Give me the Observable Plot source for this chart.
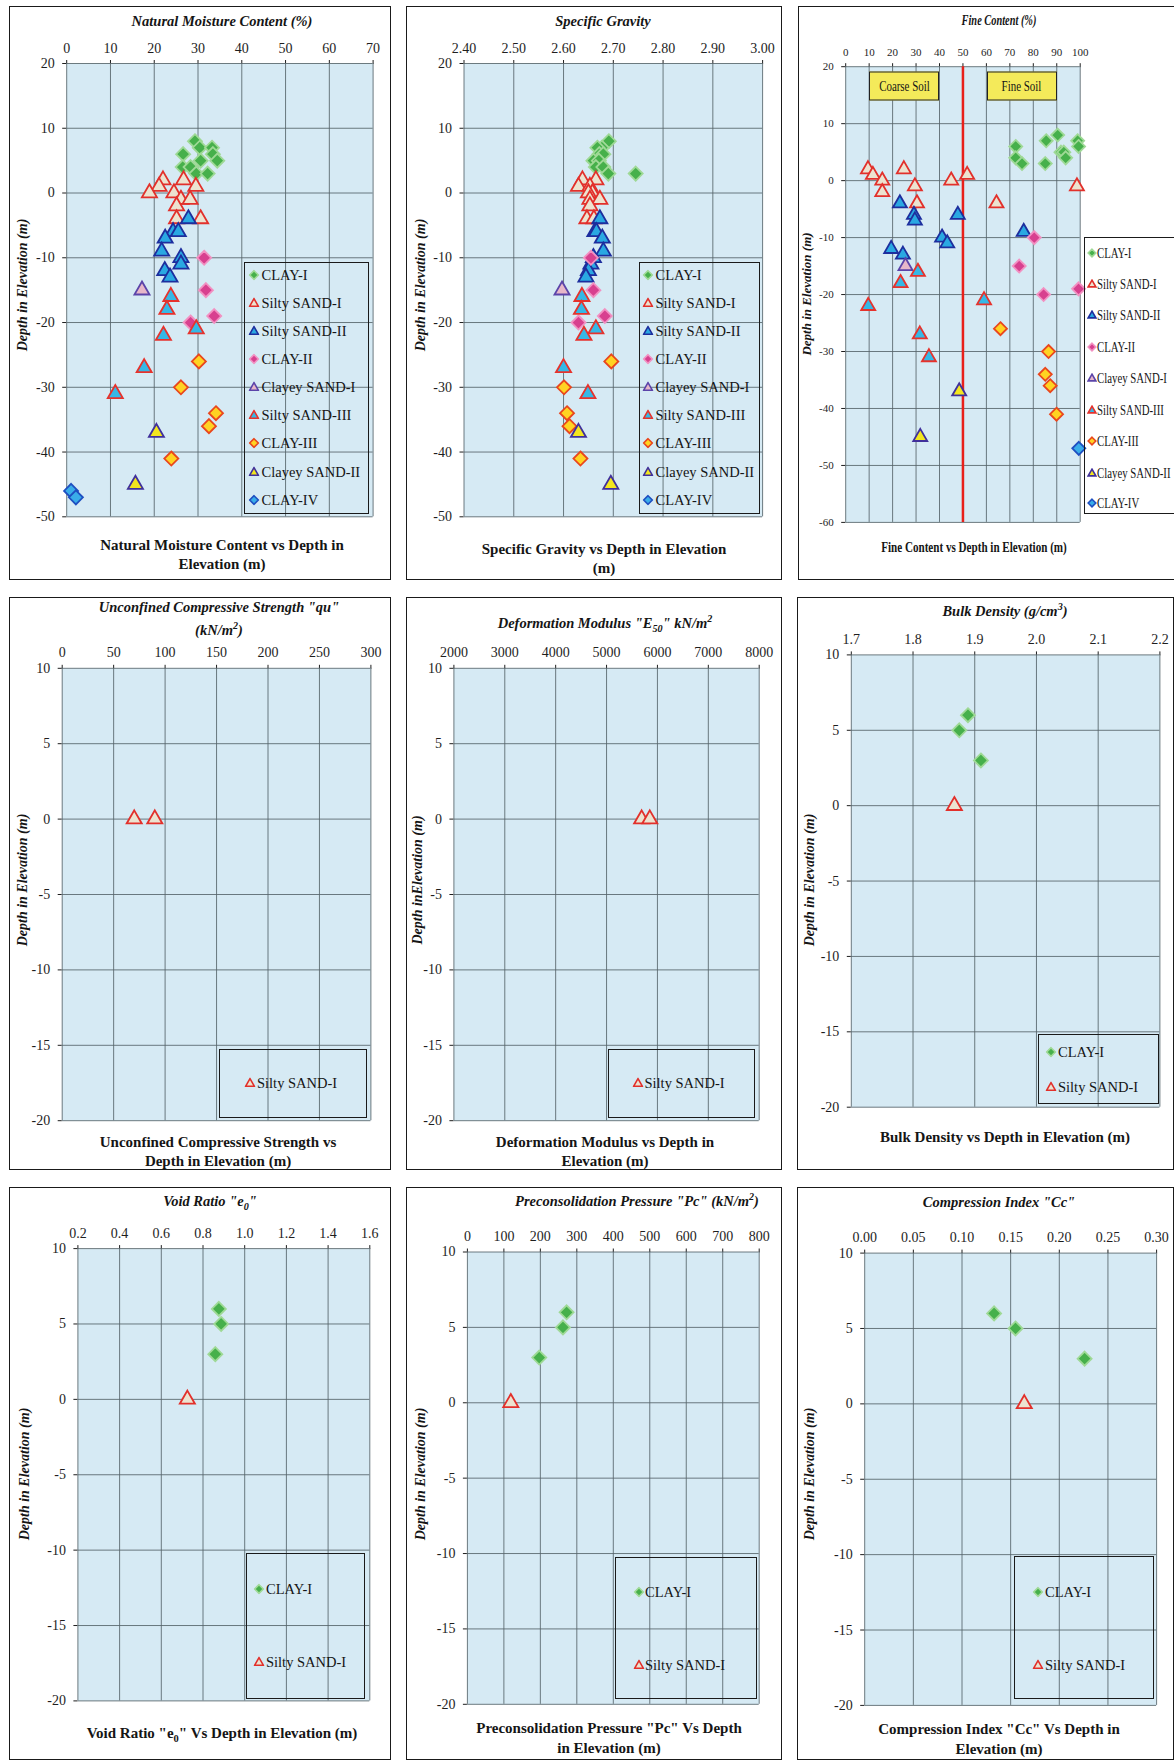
<!DOCTYPE html>
<html><head><meta charset="utf-8">
<script src="https://cdn.jsdelivr.net/npm/d3@7"></script>
<script src="https://cdn.jsdelivr.net/npm/@observablehq/plot@0.6"></script>
<style>
body{margin:0;background:#fff;}
#root{position:relative;width:1174px;height:1760px;overflow:hidden;font-family:"Liberation Serif","Times New Roman",serif;color:#151515;background:#fff;}
.pb{position:absolute;border:1.5px solid #1a1a1a;box-sizing:border-box;pointer-events:none;}
.t{position:absolute;white-space:nowrap;transform:translate(-50%,-50%);line-height:1;}
.title{font-weight:bold;font-style:italic;font-size:14.5px;}
.cap{font-weight:bold;font-size:15px;}
.ylab{font-weight:bold;font-style:italic;font-size:14px;transform:translate(-50%,-50%) rotate(-90deg);}
.cond{transform:translate(-50%,-50%) scaleX(0.74);}
.legend{position:absolute;border:1.5px solid #1a1a1a;box-sizing:border-box;}
.li{position:absolute;white-space:nowrap;font-size:14.5px;line-height:1;transform:translateY(-50%);}
.li.c{transform:translateY(-50%) scaleX(0.72);transform-origin:left center;}
.mk{position:absolute;transform:translate(-50%,-50%);}
.zone{position:absolute;background:#f4ea5a;border:1.5px solid #222;box-sizing:border-box;display:flex;align-items:center;justify-content:center;font-size:14px;transform:translate(-50%,-50%);}
.zone span{display:inline-block;transform:scaleX(0.78);white-space:nowrap;}
sub,sup{font-size:0.7em;line-height:0;}
</style></head><body><div id="root"></div>
<script>
// ---------- series ----------
const seriesNames = ["CLAY-I","Silty SAND-I","Silty SAND-II","CLAY-II","Clayey SAND-I","Silty SAND-III","CLAY-III","Clayey SAND-II","CLAY-IV"];
const seriesShapes = ["diamond","triangle","triangle","diamond","triangle","triangle","diamond","triangle","diamond"];
const seriesFills = ["#46b04b","#ece3d0","#2aa8e2","#d8408f","#e7b7c9","#35b8e6","#ffd322","#f3e61e","#39ade9"];
const seriesStrokes = ["#9fd996","#e2302b","#1d2e9e","#f291c2","#5b44a9","#e6322c","#e9461d","#40309b","#1e4fc1"];

// ---------- data: [series, value, elevation] ----------
const moistureData = [
 ["CLAY-I",29.3,8],["CLAY-I",30.4,7],["CLAY-I",33.2,7],["CLAY-I",26.6,6],["CLAY-I",33.4,6],["CLAY-I",30.6,5],["CLAY-I",34.4,5],["CLAY-I",26.5,4],["CLAY-I",28.3,4],["CLAY-I",29.6,3],["CLAY-I",32.2,3],
 ["Silty SAND-I",22.0,2],["Silty SAND-I",26.7,2],["Silty SAND-I",21.1,1],["Silty SAND-I",29.5,1],["Silty SAND-I",18.9,0],["Silty SAND-I",24.5,0],["Silty SAND-I",26.1,-1],["Silty SAND-I",28.2,-1],["Silty SAND-I",25.1,-2],["Silty SAND-I",25.1,-4],["Silty SAND-I",30.6,-4],
 ["Silty SAND-II",27.8,-4],["Silty SAND-II",24.3,-6],["Silty SAND-II",25.5,-6],["Silty SAND-II",22.5,-7],["Silty SAND-II",21.7,-9],["Silty SAND-II",26.1,-10],["Silty SAND-II",26.1,-11],["Silty SAND-II",22.4,-12],["Silty SAND-II",23.6,-13],
 ["CLAY-II",31.4,-10],["CLAY-II",31.8,-15],["CLAY-II",33.7,-19],["CLAY-II",28.3,-20],
 ["Clayey SAND-I",17.2,-15],
 ["Silty SAND-III",23.8,-16],["Silty SAND-III",22.9,-18],["Silty SAND-III",29.6,-21],["Silty SAND-III",22.1,-22],["Silty SAND-III",17.7,-27],["Silty SAND-III",11.1,-31],
 ["CLAY-III",30.2,-26],["CLAY-III",26.1,-30],["CLAY-III",34.1,-34],["CLAY-III",32.5,-36],["CLAY-III",23.9,-41],
 ["Clayey SAND-II",20.5,-37],["Clayey SAND-II",15.7,-45],
 ["CLAY-IV",1.0,-46],["CLAY-IV",2.1,-47]
];
const gravityData = [
 ["CLAY-I",2.691,8],["CLAY-I",2.677,7],["CLAY-I",2.668,7],["CLAY-I",2.672,6],["CLAY-I",2.680,6],["CLAY-I",2.660,5],["CLAY-I",2.671,5],["CLAY-I",2.665,4],["CLAY-I",2.680,4],["CLAY-I",2.690,3],["CLAY-I",2.745,3],
 ["Silty SAND-I",2.638,2],["Silty SAND-I",2.665,2],["Silty SAND-I",2.630,1],["Silty SAND-I",2.653,1],["Silty SAND-I",2.658,0],["Silty SAND-I",2.650,0],["Silty SAND-I",2.653,-1],["Silty SAND-I",2.673,-1],["Silty SAND-I",2.653,-2],["Silty SAND-I",2.647,-4],["Silty SAND-I",2.661,-4],
 ["Silty SAND-II",2.673,-4],["Silty SAND-II",2.663,-6],["Silty SAND-II",2.666,-6],["Silty SAND-II",2.678,-7],["Silty SAND-II",2.680,-9],["Silty SAND-II",2.660,-10],["Silty SAND-II",2.655,-11],["Silty SAND-II",2.650,-12],["Silty SAND-II",2.645,-13],
 ["CLAY-II",2.655,-10],["CLAY-II",2.660,-15],["CLAY-II",2.683,-19],["CLAY-II",2.630,-20],
 ["Clayey SAND-I",2.597,-15],
 ["Silty SAND-III",2.637,-16],["Silty SAND-III",2.636,-18],["Silty SAND-III",2.665,-21],["Silty SAND-III",2.641,-22],["Silty SAND-III",2.600,-27],["Silty SAND-III",2.649,-31],
 ["CLAY-III",2.696,-26],["CLAY-III",2.601,-30],["CLAY-III",2.607,-34],["CLAY-III",2.612,-36],["CLAY-III",2.634,-41],
 ["Clayey SAND-II",2.630,-37],["Clayey SAND-II",2.695,-45]
];
const fineData = [
 ["CLAY-I",90.4,8],["CLAY-I",85.5,7],["CLAY-I",98.9,7],["CLAY-I",72.5,6],["CLAY-I",99.3,6],["CLAY-I",91.8,5],["CLAY-I",93.0,5],["CLAY-I",72.5,4],["CLAY-I",93.8,4],["CLAY-I",75.2,3],["CLAY-I",85.1,3],
 ["Silty SAND-I",9.5,2],["Silty SAND-I",24.8,2],["Silty SAND-I",11.6,1],["Silty SAND-I",51.8,1],["Silty SAND-I",15.6,0],["Silty SAND-I",45.0,0],["Silty SAND-I",29.5,-1],["Silty SAND-I",98.6,-1],["Silty SAND-I",15.6,-2],["Silty SAND-I",30.4,-4],["Silty SAND-I",64.3,-4],
 ["Silty SAND-II",23.1,-4],["Silty SAND-II",29.1,-6],["Silty SAND-II",47.8,-6],["Silty SAND-II",29.5,-7],["Silty SAND-II",75.9,-9],["Silty SAND-II",41.1,-10],["Silty SAND-II",43.3,-11],["Silty SAND-II",19.4,-12],["Silty SAND-II",24.4,-13],
 ["CLAY-II",80.4,-10],["CLAY-II",74.0,-15],["CLAY-II",99.3,-19],["CLAY-II",84.4,-20],
 ["Clayey SAND-I",25.5,-15],
 ["Silty SAND-III",30.8,-16],["Silty SAND-III",23.4,-18],["Silty SAND-III",59.0,-21],["Silty SAND-III",9.6,-22],["Silty SAND-III",31.6,-27],["Silty SAND-III",35.5,-31],
 ["CLAY-III",66.0,-26],["CLAY-III",86.5,-30],["CLAY-III",85.1,-34],["CLAY-III",87.2,-36],["CLAY-III",89.9,-41],
 ["Clayey SAND-II",48.4,-37],["Clayey SAND-II",31.8,-45],
 ["CLAY-IV",99.4,-47]
];
const quData = [["Silty SAND-I",70,0],["Silty SAND-I",90,0]];
const e50Data = [["Silty SAND-I",5690,0],["Silty SAND-I",5850,0]];
const bulkData = [["CLAY-I",1.889,6],["CLAY-I",1.875,5],["CLAY-I",1.910,3],["Silty SAND-I",1.867,0]];
const voidData = [["CLAY-I",0.876,6],["CLAY-I",0.887,5],["CLAY-I",0.859,3],["Silty SAND-I",0.725,0]];
const pcData = [["CLAY-I",272,6],["CLAY-I",262,5],["CLAY-I",197,3],["Silty SAND-I",119,0]];
const ccData = [["CLAY-I",0.133,6],["CLAY-I",0.155,5],["CLAY-I",0.226,3],["Silty SAND-I",0.164,0]];

// soil zone annotation (fine content panel)
const soilZones = [["Coarse Soil",25.1,16.5],["Fine Soil",75.3,16.5]];
const soilBoundary = [50];

// ---------- ticks ----------
const moistureTicks = [0,10,20,30,40,50,60,70];
const gravityTicks = [2.4,2.5,2.6,2.7,2.8,2.9,3.0];
const fineTicks = [0,10,20,30,40,50,60,70,80,90,100];
const quTicks = [0,50,100,150,200,250,300];
const e50Ticks = [2000,3000,4000,5000,6000,7000,8000];
const bulkTicks = [1.7,1.8,1.9,2.0,2.1,2.2];
const voidTicks = [0.2,0.4,0.6,0.8,1.0,1.2,1.4,1.6];
const pcTicks = [0,100,200,300,400,500,600,700,800];
const ccTicks = [0,0.05,0.10,0.15,0.20,0.25,0.30];
const depthTicksDeep = [20,10,0,-10,-20,-30,-40,-50];
const depthTicksFine = [20,10,0,-10,-20,-30,-40,-50,-60];
const depthTicksShallow = [10,5,0,-5,-10,-15,-20];

const plotBg = "#d6eaf4";
const gridColor = "#56646a";

const fmtInt = d => String(d);
const fmt1 = d => d.toFixed(1);
const fmt2 = d => d.toFixed(2);

const allRows = [275,303,331,359,387,415,443,471.5,499.5];
const panels = [
 {data: moistureData, xd:[0,70], xt: moistureTicks, xf: fmtInt, yd:[-50,20], yt: depthTicksDeep,
  box:[9,6,382,574], m:[57,18.4,63.7,57.2],
  title:[["Natural Moisture Content (%)",222,21]],
  cap:[["Natural Moisture Content vs Depth in",222,545],["Elevation (m)",222,564]],
  ylab:["Depth in Elevation (m)",22.5,285],
  leg:{box:[243.6,261.5,125.7,252.5], mx:253.7, tx:261.5, rows:allRows, series:seriesNames}},
 {data: gravityData, xd:[2.4,3.0], xt: gravityTicks, xf: fmt2, yd:[-50,20], yt: depthTicksDeep,
  box:[406,6,376,574], m:[57,19.9,63.7,57.5],
  title:[["Specific Gravity",603,21]],
  cap:[["Specific Gravity vs Depth in Elevation",604,549],["(m)",604,568]],
  ylab:["Depth in Elevation (m)",421,285],
  leg:{box:[638.6,261.5,121.3,252.5], mx:647.6, tx:655.5, rows:allRows, series:seriesNames}},
 {data: fineData, xd:[0,100], xt: fineTicks, xf: fmtInt, yd:[-60,20], yt: depthTicksFine,
  box:[798,6,400,574], m:[60.2,118.3,58.1,47.2], small:true, fine:true,
  title:[["Fine Content (%)",999,21]],
  cap:[["Fine Content vs Depth in Elevation (m)",974,547]],
  ylab:["Depth in Elevation (m)",806,294],
  leg:{box:[1084,237,110,277], mx:1091.5, tx:1097, rows:[252.5,284,315.4,346.8,378.2,409.7,441,472.5,502.8], series:seriesNames, cond:true}},
 {data: quData, xd:[0,300], xt: quTicks, xf: fmtInt, yd:[-20,10], yt: depthTicksShallow,
  box:[9,597,382,573], m:[70.8,20.6,49.8,52.7],
  title:[['Unconfined Compressive Strength "qu"',219,607],["(kN/m<sup>2</sup>)",219,630]],
  cap:[["Unconfined Compressive Strength vs",218,1142],["Depth in Elevation (m)",218,1161]],
  ylab:["Depth in Elevation (m)",22.5,880],
  leg:{box:[218.9,1049.4,148,68.6], mx:250, tx:257, rows:[1083], series:["Silty SAND-I"]}},
 {data: e50Data, xd:[2000,8000], xt: e50Ticks, xf: fmtInt, yd:[-20,10], yt: depthTicksShallow,
  box:[406,597,376,573], m:[70.8,23.3,49.8,47.4],
  title:[['Deformation Modulus "E<sub>50</sub>" kN/m<sup>2</sup>',605,623]],
  cap:[["Deformation Modulus vs Depth in",605,1142],["Elevation (m)",605,1161]],
  ylab:["Depth inElevation (m)",417.5,880],
  leg:{box:[608.3,1049.4,147,68.6], mx:637.5, tx:644.5, rows:[1083], series:["Silty SAND-I"]}},
 {data: bulkData, xd:[1.7,2.2], xt: bulkTicks, xf: fmt1, yd:[-20,10], yt: depthTicksShallow,
  box:[797,597,377,573], m:[57.4,14.6,63.3,53.8],
  title:[["Bulk Density (g/cm<sup>3</sup>)",1005,611]],
  cap:[["Bulk Density vs Depth in Elevation (m)",1005,1137]],
  ylab:["Depth in Elevation (m)",810,880],
  leg:{box:[1038.2,1033.7,121.2,70.7], mx:1050.6, tx:1058, rows:[1051.7,1086.5], series:["CLAY-I","Silty SAND-I"]}},
 {data: voidData, xd:[0.2,1.6], xt: voidTicks, xf: fmt1, yd:[-20,10], yt: depthTicksShallow,
  box:[9,1187,382,573], m:[61.1,21.7,59.6,68.4],
  title:[['Void Ratio "e<sub>0</sub>"',210,1201]],
  cap:[['Void Ratio "e<sub>0</sub>" Vs Depth in Elevation (m)',222,1733]],
  ylab:["Depth in Elevation (m)",24.7,1474],
  leg:{box:[245.8,1553.4,119,145.9], mx:259.3, tx:266, rows:[1589.3,1662.3], series:["CLAY-I","Silty SAND-I"]}},
 {data: pcData, xd:[0,800], xt: pcTicks, xf: fmtInt, yd:[-20,10], yt: depthTicksShallow,
  box:[406,1187,376,573], m:[64.5,23.3,56.2,60.9],
  title:[['Preconsolidation Pressure "Pc" (kN/m<sup>2</sup>)',637,1201]],
  cap:[['Preconsolidation Pressure "Pc" Vs Depth',609,1728],["in Elevation (m)",609,1748]],
  ylab:["Depth in Elevation (m)",421,1474],
  leg:{box:[615,1556.8,141.5,142.5], mx:638.6, tx:645, rows:[1591.6,1664.5], series:["CLAY-I","Silty SAND-I"]}},
 {data: ccData, xd:[0,0.3], xt: ccTicks, xf: fmt2, yd:[-20,10], yt: depthTicksShallow,
  box:[797,1187,377,573], m:[65.6,17.9,55.1,67.2],
  title:[['Compression Index "Cc"',999,1202]],
  cap:[['Compression Index "Cc" Vs Depth in',999,1729],["Elevation (m)",999,1749]],
  ylab:["Depth in Elevation (m)",810,1474],
  leg:{box:[1013.5,1555.6,140.3,143.7], mx:1038.2, tx:1045, rows:[1591.6,1664.5], series:["CLAY-I","Silty SAND-I"]}}
];

// ---------- symbols ----------
const diamondSymbol = {draw(ctx, size){const h=Math.sqrt(size/2);ctx.moveTo(0,-h);ctx.lineTo(h,0);ctx.lineTo(0,h);ctx.lineTo(-h,0);ctx.closePath();}};
const triangleSymbol = {draw(ctx, size){const s=Math.sqrt(size*4/Math.sqrt(3));const hh=s*Math.sqrt(3)/2;ctx.moveTo(0,-hh*2/3);ctx.lineTo(s/2,hh/3);ctx.lineTo(-s/2,hh/3);ctx.closePath();}};

function markerSVG(idx, sz){
  const fill = seriesFills[idx], stroke = seriesStrokes[idx];
  const c = sz/2, h = sz/2 - 1.2;
  let d;
  if (seriesShapes[idx] === "diamond") d = `M${c},${c-h}L${c+h},${c}L${c},${c+h}L${c-h},${c}Z`;
  else d = `M${c},${c-h}L${c+h},${c+h*0.75}L${c-h},${c+h*0.75}Z`;
  return `<svg width="${sz}" height="${sz}" style="display:block"><path d="${d}" fill="${fill}" stroke="${stroke}" stroke-width="1.6" stroke-linejoin="miter"/></svg>`;
}

const root = document.getElementById("root");
function addText(cls, html, x, y){
  const el = document.createElement("div");
  el.className = "t " + cls;
  el.innerHTML = html;
  el.style.left = x + "px"; el.style.top = y + "px";
  root.appendChild(el);
  return el;
}

for (const p of panels){
  const [L,T,W,H] = p.box;
  const [mt,mr,mb,ml] = p.m;
  const rows = p.data.map(([s,v,d]) => ({s, v, d}));
  const marks = [
    Plot.frame({fill: plotBg, stroke: null}),
    Plot.ruleX(p.xt, {stroke: gridColor, strokeWidth: 1, strokeOpacity: 0.85}),
    Plot.ruleY(p.yt, {stroke: gridColor, strokeWidth: 1, strokeOpacity: 0.85})
  ];
  if (p.fine) marks.push(Plot.ruleX(soilBoundary, {stroke: "#e8201a", strokeWidth: 2.5}));
  seriesNames.forEach((name, i) => {
    const sub = rows.filter(r => r.s === name);
    if (!sub.length) return;
    marks.push(Plot.dot(sub, {x: "v", y: "d", r: p.small ? 5.2 : 5.6,
      symbol: seriesShapes[i] === "diamond" ? diamondSymbol : triangleSymbol,
      fill: seriesFills[i], stroke: seriesStrokes[i], strokeWidth: 1.8}));
  });
  const fs = p.small ? "11px" : "14px";
  const chart = Plot.plot({
    width: W, height: H,
    marginTop: mt, marginRight: mr, marginBottom: mb, marginLeft: ml,
    x: {domain: p.xd, ticks: p.xt, tickFormat: p.xf, axis: "top", label: null, tickSize: 4, tickPadding: 7},
    y: {domain: p.yd, ticks: p.yt, tickFormat: fmtInt, label: null, tickSize: 4, tickPadding: 8},
    style: {fontFamily: '"Liberation Serif", serif', fontSize: fs, color: "#1e1e1e", background: "transparent", overflow: "visible"},
    marks
  });
  const holder = document.createElement("div");
  holder.style.cssText = `position:absolute;left:${L}px;top:${T}px;width:${W}px;height:${H}px;`;
  holder.appendChild(chart);
  root.appendChild(holder);

  const border = document.createElement("div");
  border.className = "pb";
  border.style.cssText = `left:${L}px;top:${T}px;width:${W}px;height:${H}px;`;
  root.appendChild(border);

  for (const [txt,x,y] of p.title){ const e = addText("title" + (p.small ? " cond" : ""), txt, x, y); if (p.small) e.style.fontSize = "14px"; }
  for (const [txt,x,y] of p.cap){ const e = addText("cap" + (p.small ? " cond" : ""), txt, x, y); if (p.small) e.style.fontSize = "15px"; }
  const yl = addText("ylab", p.ylab[0], p.ylab[1], p.ylab[2]);
  if (p.small) yl.style.fontSize = "13px";

  // soil zone labels positioned through the chart's own scales
  if (p.fine){
    const sx = chart.scale("x"), sy = chart.scale("y");
    for (const [label, xv, yv] of soilZones){
      const z = document.createElement("div");
      z.className = "zone";
      z.style.cssText = `left:${L + sx.apply(xv)}px;top:${T + sy.apply(yv)}px;width:70px;height:29px;`;
      z.innerHTML = `<span>${label}</span>`;
      root.appendChild(z);
    }
  }

  // legend
  const lg = p.leg;
  const box = document.createElement("div");
  box.className = "legend";
  box.style.cssText = `left:${lg.box[0]}px;top:${lg.box[1]}px;width:${lg.box[2]}px;height:${lg.box[3]}px;`;
  root.appendChild(box);
  lg.series.forEach((name, k) => {
    const idx = seriesNames.indexOf(name);
    const y = lg.rows[k];
    const mk = document.createElement("div");
    mk.className = "mk";
    mk.style.left = lg.mx + "px"; mk.style.top = y + "px";
    mk.innerHTML = markerSVG(idx, p.small ? 10 : 11);
    root.appendChild(mk);
    const tx = document.createElement("div");
    tx.className = "li" + (lg.cond ? " c" : "");
    tx.style.left = lg.tx + "px"; tx.style.top = y + "px";
    if (lg.cond) tx.style.fontSize = "15px";
    tx.textContent = name;
    root.appendChild(tx);
  });
}
</script></body></html>
